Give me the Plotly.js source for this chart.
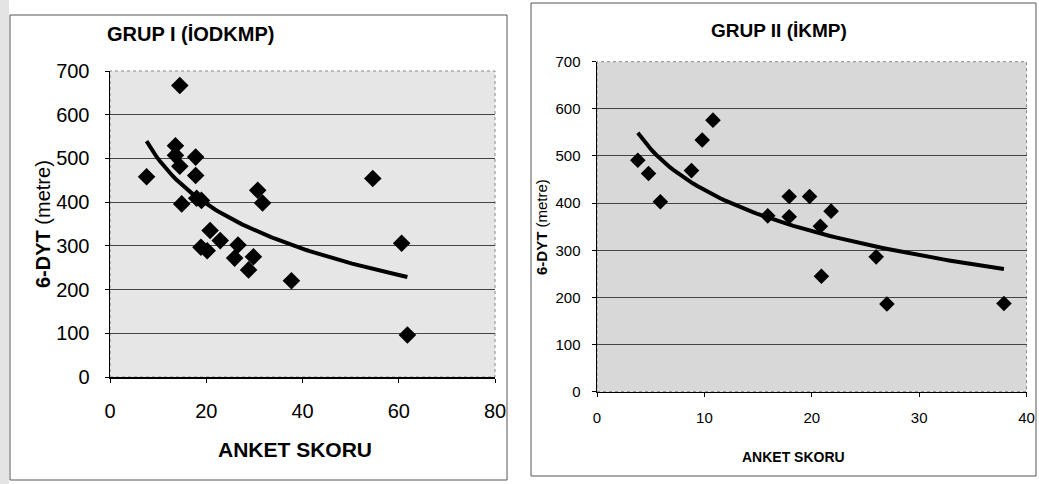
<!DOCTYPE html>
<html>
<head>
<meta charset="utf-8">
<script src="https://cdn.plot.ly/plotly-3.0.1.min.js"></script>
<style>
  html, body { margin: 0; padding: 0; background: #ffffff; }
  #chart { width: 1039px; height: 484px; }
</style>
</head>
<body>
<div id="chart"></div>
<script>
// ---- Data ----
// Group I (İODKMP)
const group1Score = [14.5, 13.6, 13.6, 14.5, 17.8, 17.8, 7.6, 14.9, 18.0, 19.0, 30.7, 31.7, 54.6,
                     20.8, 22.9, 18.9, 20.2, 26.6, 25.9, 29.8, 28.8, 37.7, 60.6, 61.8];
const group1Walk  = [667, 529, 507, 482, 503, 461, 458, 396, 409, 404, 427, 398, 454,
                     335, 312, 297, 289, 302, 272, 275, 245, 220, 306, 96];
// Group II (İKMP)
const group2Score = [3.8, 4.8, 5.9, 8.8, 9.8, 10.8, 15.9, 17.9, 17.9, 19.8, 21.8, 20.8, 20.9, 26.0, 27.0, 37.9];
const group2Walk  = [491, 463, 403, 469, 534, 576, 373, 414, 371, 414, 383, 351, 245, 286, 186, 187];

const titles = ["GRUP I (İODKMP)", "GRUP II (İKMP)"];
const xTitle = "ANKET SKORU";
const yTitleBold = "6-DYT";
const yTitleRest = "(metre)";
const xTicks1 = [0, 20, 40, 60, 80];
const xTicks2 = [0, 10, 20, 30, 40];
const yTicks  = [0, 100, 200, 300, 400, 500, 600, 700];

// Logarithmic trend line (least squares on ln x), as a spreadsheet would draw it
function logTrend(xs, ys, n) {
  const L = xs.map(Math.log);
  const mL = L.reduce((a, b) => a + b, 0) / L.length;
  const mY = ys.reduce((a, b) => a + b, 0) / ys.length;
  let sxy = 0, sxx = 0;
  for (let i = 0; i < L.length; i++) { sxy += (L[i] - mL) * (ys[i] - mY); sxx += (L[i] - mL) ** 2; }
  const b = sxy / sxx, a = mY - b * mL;
  const lo = Math.min(...xs), hi = Math.max(...xs);
  const tx = [], ty = [];
  for (let i = 0; i <= n; i++) { const x = lo + (hi - lo) * i / n; tx.push(x); ty.push(a + b * Math.log(x)); }
  return { x: tx, y: ty };
}
const t1 = logTrend(group1Score, group1Walk, 80);
const t2 = logTrend(group2Score, group2Walk, 80);

const W = 1039, H = 484;
const px = v => v / W, py = v => 1 - v / H;
const FONT = 'Liberation Sans, Arial, sans-serif';

const traces = [
  { x: group1Score, y: group1Walk, type: 'scatter', mode: 'markers', xaxis: 'x', yaxis: 'y',
    marker: { symbol: 'diamond', size: 13.5, color: '#000' }, hoverinfo: 'x+y' },
  { x: t1.x, y: t1.y, type: 'scatter', mode: 'lines', xaxis: 'x', yaxis: 'y',
    line: { color: '#000', width: 4 }, hoverinfo: 'skip' },
  { x: group2Score, y: group2Walk, type: 'scatter', mode: 'markers', xaxis: 'x2', yaxis: 'y2',
    marker: { symbol: 'diamond', size: 12, color: '#000' }, hoverinfo: 'x+y' },
  { x: t2.x, y: t2.y, type: 'scatter', mode: 'lines', xaxis: 'x2', yaxis: 'y2',
    line: { color: '#000', width: 4 }, hoverinfo: 'skip' }
];

function axisX(domain, range, ticks, size, anchor, standoff) {
  return { domain: domain, range: range, anchor: anchor, tickvals: ticks, ticktext: ticks.map(String),
    showgrid: false, zeroline: false, showline: true, linecolor: '#000', linewidth: 1.5,
    ticks: 'outside', ticklen: 4, tickcolor: '#000', ticklabelstandoff: standoff,
    tickfont: { family: FONT, size: size, color: '#000' }, fixedrange: true };
}
function axisY(domain, range, size, anchor, standoff) {
  return { domain: domain, range: range, anchor: anchor, tickvals: yTicks, ticktext: yTicks.map(String),
    showgrid: true, gridcolor: '#444', gridwidth: 1, zeroline: false, showline: true, linecolor: '#000', linewidth: 1.5,
    ticks: 'outside', ticklen: 4, tickcolor: '#000', ticklabelstandoff: standoff,
    tickfont: { family: FONT, size: size, color: '#000' }, fixedrange: true };
}

const layout = {
  width: W, height: H,
  margin: { l: 0, r: 0, t: 0, b: 0 },
  paper_bgcolor: '#ffffff', plot_bgcolor: 'rgba(0,0,0,0)',
  showlegend: false,
  xaxis:  axisX([px(110), px(495)], [0, 80], xTicks1, 20, 'y', 11),
  yaxis:  axisY([py(377), py(71)], [0, 700], 20, 'x', 11),
  xaxis2: axisX([px(597), px(1026.5)], [0, 40], xTicks2, 15, 'y2', 8),
  yaxis2: axisY([py(391.7), py(61.7)], [0, 700], 15, 'x2', 8),
  shapes: [
    // scanned margin at far left
    { type: 'rect', xref: 'paper', yref: 'paper', x0: 0, x1: px(9), y0: 0, y1: 1, fillcolor: '#e4e4e4', line: { width: 0 }, layer: 'below' },
    // chart frames
    { type: 'rect', xref: 'paper', yref: 'paper', x0: px(10), x1: px(507), y0: py(480), y1: py(15), line: { color: '#555', width: 1 }, layer: 'below' },
    { type: 'rect', xref: 'paper', yref: 'paper', x0: px(531), x1: px(1036), y0: py(476), y1: py(3), line: { color: '#555', width: 1 }, layer: 'below' },
    // plot-area fills (stippled grey)
    { type: 'rect', xref: 'x domain', yref: 'y domain', x0: 0, x1: 1, y0: 0, y1: 1, fillcolor: '#e6e6e6', line: { color: '#888', width: 1, dash: 'dot' }, layer: 'below' },
    { type: 'rect', xref: 'x2 domain', yref: 'y2 domain', x0: 0, x1: 1, y0: 0, y1: 1, fillcolor: '#d8d8d8', line: { color: '#888', width: 1, dash: 'dot' }, layer: 'below' }
  ],
  annotations: [
    { text: '<b>' + titles[0] + '</b>', xref: 'paper', yref: 'paper', x: px(190), y: py(34), showarrow: false,
      xanchor: 'center', yanchor: 'middle', font: { family: FONT, size: 20, color: '#000' } },
    { text: '<b>' + titles[1] + '</b>', xref: 'paper', yref: 'paper', x: px(779), y: py(30), showarrow: false,
      xanchor: 'center', yanchor: 'middle', font: { family: FONT, size: 19, color: '#000' } },
    { text: '<b>' + xTitle + '</b>', xref: 'paper', yref: 'paper', x: px(295), y: py(449), showarrow: false,
      xanchor: 'center', yanchor: 'middle', font: { family: FONT, size: 21, color: '#000' } },
    { text: '<b>' + xTitle + '</b>', xref: 'paper', yref: 'paper', x: px(793), y: py(457), showarrow: false,
      xanchor: 'center', yanchor: 'middle', font: { family: FONT, size: 14, color: '#000' } },
    { text: '<b>' + yTitleBold + '</b> ' + yTitleRest, xref: 'paper', yref: 'paper', x: px(43), y: py(224), showarrow: false,
      textangle: -90, xanchor: 'center', yanchor: 'middle', font: { family: FONT, size: 20, color: '#000' } },
    { text: '<b>' + yTitleBold + '</b> ' + yTitleRest, xref: 'paper', yref: 'paper', x: px(541), y: py(227), showarrow: false,
      textangle: -90, xanchor: 'center', yanchor: 'middle', font: { family: FONT, size: 15, color: '#000' } }
  ]
};

Plotly.newPlot('chart', traces, layout, { displayModeBar: false, staticPlot: true });
</script>
</body>
</html>
